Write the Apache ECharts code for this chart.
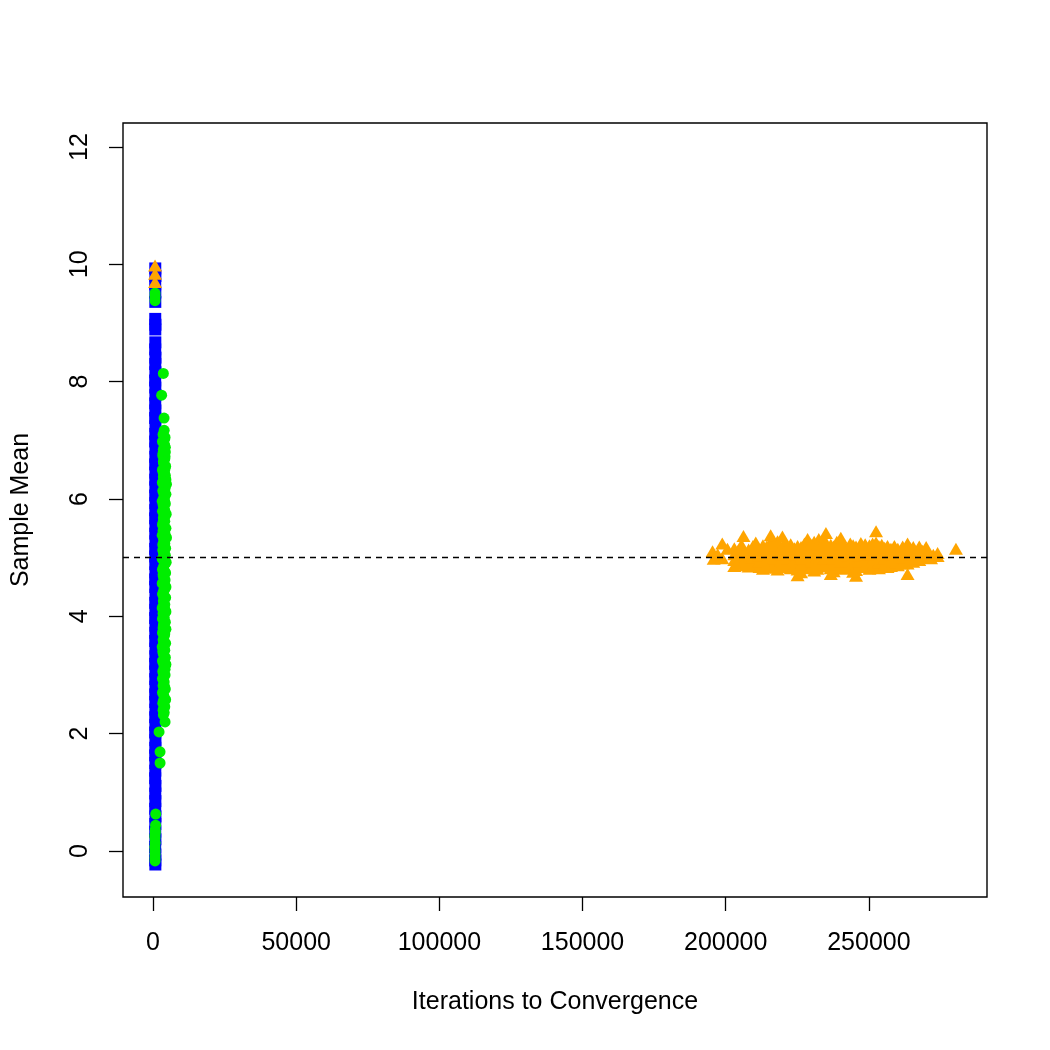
<!DOCTYPE html>
<html lang="en">
<head>
    <meta charset="UTF-8">
    <script src="https://cdn.jsdelivr.net/npm/echarts@6/dist/echarts.min.js"></script>
    <style>
        body { margin: 0; background: #fff; }
    </style>
</head>
<body>
    <div id="main" style="width: 1050px; height: 1050px;"></div>
    <script>
        // tick labels
        var xTicks = [0, 50000, 100000, 150000, 200000, 250000];
        var yTicks = [0, 2, 4, 6, 8, 10, 12];
        var trueMean = 5;

        // blue squares: fast convergence, [iterations, sample mean]
        var bluePoints = [
            [780, 9.93], [820, 9.80], [760, 9.66], [800, 9.52], [790, 9.36],
            [770, 9.07], [820, 8.97], [790, 8.89],
            [800, 8.67], [760, 8.55], [840, 8.41], [780, 8.30], [820, 8.16], [750, 8.02],
            [800, 7.90], [830, 7.77], [770, 7.63], [810, 7.51], [750, 7.38], [840, 7.24],
            [790, 7.11], [760, 6.98], [840, 6.86], [800, 6.72], [750, 6.59], [820, 6.45],
            [780, 6.33], [810, 6.20], [760, 6.06], [830, 5.93], [790, 5.81], [750, 5.67],
            [820, 5.54], [780, 5.41], [840, 5.28], [760, 5.15], [810, 5.02], [780, 4.89],
            [830, 4.75], [750, 4.63], [800, 4.50], [840, 4.37], [770, 4.23], [810, 4.11],
            [750, 3.97], [830, 3.84], [790, 3.72], [760, 3.58], [840, 3.45], [800, 3.32],
            [750, 3.19], [820, 3.06], [780, 2.93], [830, 2.80], [760, 2.67], [800, 2.54],
            [820, 2.41], [770, 2.28], [810, 2.15], [750, 2.02], [840, 1.89], [790, 1.76],
            [760, 1.63], [820, 1.50], [790, 1.37], [750, 1.24], [830, 1.11], [780, 0.98],
            [810, 0.85], [760, 0.72], [840, 0.59], [790, 0.46], [770, 0.33], [820, 0.20],
            [750, 0.07], [800, -0.06], [780, -0.16], [810, -0.23]
        ];

        // green circles
        var greenPoints = [
            [700, 9.51], [700, 9.45], [700, 9.38],
            [3600, 8.14], [3000, 7.77], [3850, 7.38], [3900, 7.17], [3500, 7.10], [4200, 7.05],
            [3300, 6.98], [4000, 6.92], [3600, 6.85], [4300, 6.80], [3400, 6.74], [4100, 6.68],
            [3700, 6.61], [4400, 6.56], [3300, 6.50], [4000, 6.45], [3600, 6.38], [4500, 6.33],
            [3250, 6.28], [4700, 6.25], [3900, 6.21], [3400, 6.14], [4500, 6.08], [3700, 6.02],
            [3200, 5.96], [4300, 5.92], [3800, 5.85], [3300, 5.79], [4600, 5.74], [3600, 5.68],
            [4100, 5.62], [3300, 5.56], [4500, 5.50], [3700, 5.44], [3200, 5.38], [4700, 5.34],
            [3900, 5.28], [3400, 5.22], [4400, 5.16], [3600, 5.10], [4300, 5.04], [3200, 4.98],
            [4600, 4.92], [3800, 4.86], [3300, 4.80], [4400, 4.74], [3600, 4.68], [4200, 4.62],
            [3200, 4.56], [4500, 4.50], [3700, 4.44], [3300, 4.38], [4400, 4.32], [3600, 4.26],
            [4100, 4.20], [3200, 4.14], [4500, 4.08], [3700, 4.02], [3300, 3.96], [4300, 3.90],
            [3600, 3.84], [4500, 3.78], [3300, 3.72], [3900, 3.66], [3500, 3.60], [4400, 3.54],
            [3200, 3.48], [4100, 3.42], [3600, 3.36], [4300, 3.30], [3300, 3.24], [4500, 3.18],
            [3800, 3.12], [3400, 3.06], [4200, 3.00], [3300, 2.94], [3900, 2.88], [3500, 2.82],
            [4300, 2.76], [3300, 2.70], [3800, 2.64], [4400, 2.58], [3400, 2.52], [4100, 2.46],
            [3500, 2.40], [3600, 2.32], [4200, 2.20], [2100, 2.03], [2450, 1.69], [2450, 1.50],
            [940, 0.63], [900, 0.44], [750, 0.36], [800, 0.31], [650, 0.26], [700, 0.22],
            [750, 0.14], [650, 0.07], [700, 0.00], [720, -0.06], [680, -0.12], [700, -0.17],
            // extra points filling the main body
            [4000, 7.02], [3800, 6.95], [4300, 6.88], [3500, 6.78], [4200, 6.72], [3600, 6.64],
            [4200, 6.52], [3500, 6.46], [4300, 6.40], [3800, 6.30], [4200, 6.18], [3700, 6.11],
            [4000, 5.98], [3500, 5.90], [4100, 5.80], [3900, 5.72], [3500, 5.60], [4000, 5.52],
            [3500, 5.46], [4200, 5.40], [3700, 5.31], [4100, 5.24], [3400, 5.13], [3900, 5.06],
            [3500, 5.00], [4100, 4.95], [3600, 4.83], [4000, 4.77], [3500, 4.71], [3900, 4.58],
            [3800, 4.53], [4100, 4.46], [3600, 4.35], [3900, 4.29], [3500, 4.17], [4100, 4.12],
            [3500, 4.05], [3900, 3.98], [3800, 3.88], [3500, 3.80], [4100, 3.70], [3700, 3.56],
            [3800, 3.46], [3400, 3.40], [3900, 3.27], [3600, 3.20], [4200, 3.10], [3700, 3.02],
            [3600, 2.92], [4000, 2.80], [3600, 2.72], [3600, 2.56], [3800, 2.44], [3900, 2.36]
        ];

        // orange triangles: slow convergence
        var orangePoints = [
            [700, 9.98], [700, 9.84], [700, 9.70],
            [195400, 5.11], [198800, 5.24], [200600, 5.15], [195800, 4.98], [198800, 4.99], [197200, 5.06],
            [203000, 4.86], [203000, 4.96], [203000, 5.06], [203000, 5.16],
            [205500, 4.90], [205500, 5.00], [205500, 5.10], [205500, 5.22], [206200, 5.37],
            [208000, 4.85], [208000, 4.94], [208000, 5.04], [208000, 5.14], [209500, 5.20],
            [210500, 4.88], [210500, 4.98], [210500, 5.08], [210500, 5.18], [210500, 5.26],
            [213000, 4.81], [213000, 4.91], [213000, 5.01], [213000, 5.11], [213000, 5.21],
            [215700, 4.83], [215700, 4.95], [215700, 5.05], [215700, 5.16], [215700, 5.27], [215700, 5.38],
            [218100, 4.80], [218100, 4.90], [218100, 5.00], [218100, 5.10], [218100, 5.20], [218100, 5.28],
            [219800, 5.36],
            [220500, 4.84], [220500, 4.94], [220500, 5.04], [220500, 5.14], [220500, 5.24],
            [222700, 4.82], [222700, 4.93], [222700, 5.03], [222700, 5.13], [222700, 5.23],
            [225100, 4.70], [225100, 4.80], [225100, 4.90], [225100, 5.00], [225100, 5.10], [225100, 5.20],
            [227500, 4.84], [227500, 4.94], [227500, 5.04], [227500, 5.14], [227500, 5.24], [228600, 5.32],
            [230900, 4.78], [230900, 4.88], [230900, 4.98], [230900, 5.08], [230900, 5.18], [230900, 5.27],
            [232500, 5.32],
            [233300, 4.85], [233300, 4.95], [233300, 5.05], [233300, 5.15], [233300, 5.25], [235000, 5.42],
            [236700, 4.72], [236700, 4.82], [236700, 4.92], [236700, 5.02], [236700, 5.12], [236700, 5.22],
            [238800, 4.86], [238800, 4.96], [238800, 5.06], [238800, 5.16], [238800, 5.27], [240200, 5.34],
            [241400, 4.81], [241400, 4.91], [241400, 5.01], [241400, 5.11], [241400, 5.21],
            [243500, 4.86], [243500, 4.96], [243500, 5.06], [243500, 5.16], [243500, 5.24],
            [245500, 4.69], [245500, 4.79], [245500, 4.89], [245500, 4.99], [245500, 5.09], [245500, 5.19],
            [247200, 4.88], [247200, 4.98], [247200, 5.08], [247200, 5.16], [247200, 5.25],
            [250200, 4.81], [250200, 4.91], [250200, 5.01], [250200, 5.11], [250200, 5.21],
            [252500, 4.86], [252500, 4.96], [252500, 5.06], [252500, 5.16], [252500, 5.26], [252500, 5.45],
            [254500, 4.84], [254500, 4.94], [254500, 5.04], [254500, 5.14], [254500, 5.22],
            [256500, 4.84], [256500, 4.94], [256500, 5.04], [256500, 5.12], [256500, 5.20],
            [258900, 4.88], [258900, 4.98], [258900, 5.08], [258900, 5.20],
            [260100, 4.87], [260100, 4.97], [260100, 5.07], [260100, 5.15],
            [263500, 4.72], [263500, 4.90], [263500, 5.00], [263500, 5.10], [263500, 5.24],
            [265500, 4.93], [265500, 5.03], [265500, 5.13], [265500, 5.18],
            [267600, 4.96], [267600, 5.05], [267600, 5.19],
            [270000, 5.00], [270000, 5.10], [270000, 5.18], [271700, 4.99],
            [274000, 5.03], [274000, 5.08], [280400, 5.15],
            // extra points filling the main cluster
            [204200, 4.91], [204200, 5.01], [204200, 5.11], [206800, 4.87], [206800, 4.97], [206800, 5.07],
            [209200, 4.90], [209200, 5.00], [209200, 5.10], [211800, 4.84], [211800, 4.94], [211800, 5.04],
            [211800, 5.14], [214300, 4.86], [214300, 4.97], [214300, 5.08], [214300, 5.19], [216900, 4.88],
            [216900, 4.99], [216900, 5.10], [216900, 5.21], [219300, 4.85], [219300, 4.95], [219300, 5.05],
            [219300, 5.16], [221600, 4.88], [221600, 4.98], [221600, 5.09], [221600, 5.19], [224000, 4.86],
            [224000, 4.96], [224000, 5.06], [224000, 5.16], [226300, 4.75], [226300, 4.88], [226300, 4.98],
            [226300, 5.08], [226300, 5.18], [229700, 4.82], [229700, 4.93], [229700, 5.03], [229700, 5.13],
            [229700, 5.23], [232000, 4.81], [232000, 4.91], [232000, 5.02], [232000, 5.12], [232000, 5.22],
            [234500, 4.88], [234500, 4.99], [234500, 5.09], [234500, 5.19], [234500, 5.30], [237700, 4.77],
            [237700, 4.88], [237700, 4.99], [237700, 5.09], [237700, 5.19], [239900, 4.83], [239900, 4.93],
            [239900, 5.03], [239900, 5.13], [239900, 5.23], [242400, 4.84], [242400, 4.94], [242400, 5.04],
            [242400, 5.14], [244500, 4.76], [244500, 4.91], [244500, 5.01], [244500, 5.11], [244500, 5.21],
            [246300, 4.84], [246300, 4.94], [246300, 5.04], [246300, 5.14], [248700, 4.86], [248700, 4.96],
            [248700, 5.06], [248700, 5.16], [248700, 5.23], [251300, 4.85], [251300, 4.95], [251300, 5.05],
            [251300, 5.15], [251300, 5.24], [253500, 4.82], [253500, 4.92], [253500, 5.02], [253500, 5.12],
            [253500, 5.20], [255500, 4.88], [255500, 4.98], [255500, 5.08], [255500, 5.17], [257700, 4.86],
            [257700, 4.96], [257700, 5.06], [257700, 5.15], [259500, 4.92], [259500, 5.02], [259500, 5.12],
            [261800, 4.90], [261800, 5.00], [261800, 5.10], [261800, 5.19], [264500, 4.96], [264500, 5.06],
            [264500, 5.16], [266500, 4.98], [266500, 5.08], [268800, 5.02], [268800, 5.12], [272500, 5.05]
        ];

        var font = 'Liberation Sans, Arial, Helvetica, sans-serif';
        var chart = echarts.init(document.getElementById('main'));

        chart.setOption({
            animation: false,
            backgroundColor: '#fff',
            grid: {
                left: 123, right: 63, top: 123, bottom: 153,
                outerBoundsMode: 'none',
                show: true,
                borderColor: '#000',
                borderWidth: 1.4
            },
            xAxis: {
                type: 'value',
                min: -10490,
                max: 291250,
                name: 'Iterations to Convergence',
                nameLocation: 'middle',
                nameGap: 93,
                nameTextStyle: { fontSize: 25, color: '#000', fontFamily: font },
                axisLine: { show: false, onZero: false },
                splitLine: { show: false },
                axisTick: {
                    customValues: xTicks,
                    length: 14,
                    lineStyle: { color: '#000', width: 1.3 }
                },
                axisLabel: {
                    customValues: xTicks,
                    margin: 34,
                    fontSize: 25,
                    color: '#000',
                    fontFamily: font,
                    formatter: function (v) { return String(v); }
                }
            },
            yAxis: {
                type: 'value',
                min: -0.784,
                max: 12.409,
                name: 'Sample Mean',
                nameLocation: 'middle',
                nameRotate: 90,
                nameGap: 89,
                nameTextStyle: { fontSize: 25, color: '#000', fontFamily: font },
                axisLine: { show: false, onZero: false },
                splitLine: { show: false },
                axisTick: {
                    customValues: yTicks,
                    length: 14,
                    lineStyle: { color: '#000', width: 1.3 }
                },
                axisLabel: {
                    customValues: yTicks,
                    rotate: 90,
                    margin: 30,
                    fontSize: 25,
                    color: '#000',
                    fontFamily: font,
                    formatter: function (v) { return String(v); }
                }
            },
            series: [{
                type: 'scatter',
                data: bluePoints,
                symbol: 'rect',
                symbolSize: 12,
                itemStyle: { color: '#0000ff', opacity: 1 }
            }, {
                type: 'scatter',
                data: greenPoints,
                symbol: 'circle',
                symbolSize: 11,
                itemStyle: { color: '#00ee00', opacity: 1 }
            }, {
                type: 'scatter',
                data: orangePoints,
                symbol: 'triangle',
                symbolSize: [14, 12],
                itemStyle: { color: '#ffa500', opacity: 1 }
            }, {
                type: 'scatter',
                data: [],
                z: 10,
                markLine: {
                    silent: true,
                    symbol: 'none',
                    label: { show: false },
                    lineStyle: { color: '#000', width: 1.3, type: [6, 5] },
                    data: [{ yAxis: trueMean }]
                }
            }]
        });
    </script>
</body>
</html>
